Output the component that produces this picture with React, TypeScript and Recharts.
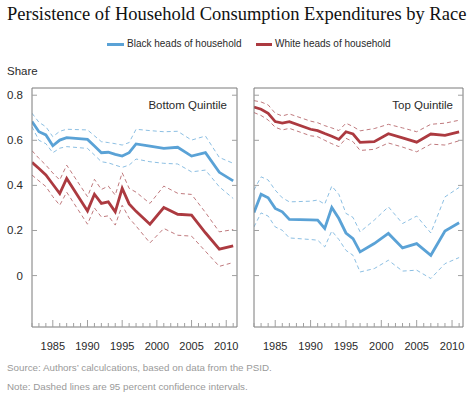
import { LineChart, Line, XAxis, YAxis } from 'recharts'

const years = [1982, 1983, 1984, 1985, 1986, 1987, 1990, 1991, 1992, 1993, 1994, 1995, 1996, 1997, 1999, 2001, 2003, 2005, 2007, 2009, 2011]

// bottom quintile
const blackBottom = [0.683, 0.638, 0.624, 0.576, 0.601, 0.612, 0.604, 0.575, 0.545, 0.547, 0.538, 0.53, 0.545, 0.584, 0.574, 0.564, 0.569, 0.53, 0.545, 0.458, 0.42]
const blackBottomHi = [0.72, 0.68, 0.66, 0.616, 0.64, 0.649, 0.646, 0.62, 0.594, 0.59, 0.585, 0.579, 0.59, 0.649, 0.643, 0.638, 0.64, 0.601, 0.619, 0.524, 0.498]
const blackBottomLo = [0.66, 0.6, 0.585, 0.545, 0.565, 0.572, 0.564, 0.535, 0.505, 0.5, 0.49, 0.48, 0.49, 0.517, 0.505, 0.498, 0.495, 0.46, 0.468, 0.394, 0.342]
const whiteBottom = [0.502, 0.475, 0.446, 0.405, 0.364, 0.431, 0.287, 0.361, 0.32, 0.327, 0.283, 0.387, 0.318, 0.285, 0.228, 0.302, 0.272, 0.268, 0.19, 0.117, 0.132]
const whiteBottomHi = [0.554, 0.52, 0.49, 0.455, 0.424, 0.49, 0.35, 0.427, 0.382, 0.397, 0.357, 0.456, 0.387, 0.37, 0.32, 0.397, 0.365, 0.36, 0.28, 0.194, 0.204]
const whiteBottomLo = [0.446, 0.42, 0.395, 0.35, 0.312, 0.37, 0.228, 0.3, 0.26, 0.265, 0.224, 0.312, 0.255, 0.22, 0.145, 0.209, 0.179, 0.175, 0.108, 0.041, 0.058]

// top quintile
const blackTop = [0.28, 0.361, 0.345, 0.298, 0.283, 0.249, 0.247, 0.246, 0.209, 0.302, 0.253, 0.189, 0.164, 0.105, 0.142, 0.187, 0.123, 0.142, 0.09, 0.198, 0.234]
const blackTopHi = [0.38, 0.438, 0.424, 0.379, 0.345, 0.327, 0.33, 0.335, 0.317, 0.397, 0.36, 0.276, 0.258, 0.194, 0.246, 0.305, 0.231, 0.264, 0.189, 0.349, 0.391]
const blackTopLo = [0.216, 0.278, 0.264, 0.216, 0.201, 0.167, 0.16, 0.157, 0.127, 0.198, 0.16, 0.112, 0.09, 0.016, 0.031, 0.068, 0.02, 0.024, -0.013, 0.053, 0.08]
const whiteTop = [0.747, 0.738, 0.72, 0.683, 0.676, 0.683, 0.649, 0.643, 0.63, 0.618, 0.604, 0.638, 0.628, 0.591, 0.594, 0.629, 0.611, 0.592, 0.628, 0.622, 0.637]
const whiteTopHi = [0.776, 0.77, 0.757, 0.72, 0.708, 0.717, 0.685, 0.678, 0.665, 0.655, 0.643, 0.676, 0.661, 0.642, 0.652, 0.671, 0.655, 0.638, 0.671, 0.676, 0.689]
const whiteTopLo = [0.723, 0.71, 0.69, 0.658, 0.646, 0.653, 0.62, 0.616, 0.6, 0.585, 0.572, 0.609, 0.594, 0.555, 0.56, 0.588, 0.57, 0.549, 0.583, 0.579, 0.598]

const yearTicks = Array.from({ length: 30 }, (_, i) => 1982 + i)
const shareTicks = [0, 0.2, 0.4, 0.6, 0.8]
const xDomain = [1982, 2011.55]
const yDomain = [-0.228, 0.832]

const BLUE = '#5aa2d6'
const RED = '#ac3a40'
const BLUE_DASH = '#8cbfe3'
const RED_DASH = '#c07a7e'
const FRAME = '#7a7a7a'
const TICK = '#a0a0a0'
const TEXT = '#2a2a2a'
const SANS = '"Liberation Sans", Arial, sans-serif'

const buildRows = (black: number[], blackHi: number[], blackLo: number[], white: number[], whiteHi: number[], whiteLo: number[]) =>
    years.map((year, i) => ({
        year,
        black: black[i],
        blackHi: blackHi[i],
        blackLo: blackLo[i],
        white: white[i],
        whiteHi: whiteHi[i],
        whiteLo: whiteLo[i],
    }))

const bottomRows = buildRows(blackBottom, blackBottomHi, blackBottomLo, whiteBottom, whiteBottomHi, whiteBottomLo)
const topRows = buildRows(blackTop, blackTopHi, blackTopLo, whiteTop, whiteTopHi, whiteTopLo)

function YearTick(props: any) {
    const { x, y, payload } = props
    const major = payload.value % 5 === 0
    return (
        <g>
            <line x1={x} x2={x} y1={y} y2={y - (major ? 7 : 4)} stroke={TICK} />
            {major && (
                <text x={x} y={y + 23} textAnchor="middle" fontSize={11} fill={TEXT} fontFamily={SANS}>
                    {payload.value}
                </text>
            )}
        </g>
    )
}

function LeftTick(props: any) {
    const { x, y, payload, showLabel } = props
    return (
        <g>
            <line x1={x} x2={x + 5} y1={y} y2={y} stroke={TICK} />
            {showLabel && (
                <text x={x - 9} y={y + 4} textAnchor="end" fontSize={11.5} fill={TEXT} fontFamily={SANS}>
                    {payload.value === 0 ? '0' : payload.value.toFixed(1)}
                </text>
            )}
        </g>
    )
}

function RightTick(props: any) {
    const { x, y } = props
    return <line x1={x} x2={x - 5} y1={y} y2={y} stroke={TICK} />
}

function Panel({ rows, width, leftWidth, showLabels }: { rows: any[]; width: number; leftWidth: number; showLabels: boolean }) {
    return (
        <LineChart width={width} height={280} data={rows} margin={{ top: 0, right: 0, bottom: 3, left: 0 }}>
            <XAxis
                dataKey="year"
                type="number"
                domain={xDomain}
                allowDataOverflow
                ticks={yearTicks}
                interval={0}
                height={30}
                tickSize={0}
                tickMargin={0}
                tickLine={false}
                axisLine={{ stroke: FRAME }}
                tick={<YearTick />}
            />
            <XAxis
                xAxisId="top"
                orientation="top"
                type="number"
                domain={xDomain}
                allowDataOverflow
                height={8}
                tick={false}
                tickLine={false}
                axisLine={{ stroke: FRAME }}
            />
            <YAxis
                type="number"
                domain={yDomain}
                allowDataOverflow
                ticks={shareTicks}
                interval={0}
                width={leftWidth}
                tickSize={0}
                tickMargin={0}
                tickLine={false}
                axisLine={{ stroke: FRAME }}
                tick={<LeftTick showLabel={showLabels} />}
            />
            <YAxis
                yAxisId="right"
                orientation="right"
                type="number"
                domain={yDomain}
                allowDataOverflow
                ticks={shareTicks}
                interval={0}
                width={8}
                tickSize={0}
                tickMargin={0}
                tickLine={false}
                axisLine={{ stroke: FRAME }}
                tick={<RightTick />}
            />
            <Line dataKey="blackHi" stroke={BLUE_DASH} strokeWidth={1} strokeDasharray="4 3" dot={false} isAnimationActive={false} />
            <Line dataKey="blackLo" stroke={BLUE_DASH} strokeWidth={1} strokeDasharray="4 3" dot={false} isAnimationActive={false} />
            <Line dataKey="whiteHi" stroke={RED_DASH} strokeWidth={1} strokeDasharray="4 3" dot={false} isAnimationActive={false} />
            <Line dataKey="whiteLo" stroke={RED_DASH} strokeWidth={1} strokeDasharray="4 3" dot={false} isAnimationActive={false} />
            <Line dataKey="black" stroke={BLUE} strokeWidth={2.8} dot={false} isAnimationActive={false} />
            <Line dataKey="white" stroke={RED} strokeWidth={2.8} dot={false} isAnimationActive={false} />
        </LineChart>
    )
}

export default function App() {
    return (
        <div style={{ position: 'absolute', left: 0, top: 0, width: 476, height: 396, background: '#fff', fontFamily: SANS, overflow: 'hidden' }}>
            <div style={{ position: 'absolute', left: 7, top: 3, fontFamily: '"Liberation Serif", serif', fontSize: 18.5, lineHeight: '22px', color: '#111', whiteSpace: 'nowrap' }}>
                Persistence of Household Consumption Expenditures by Race
            </div>

            <div style={{ position: 'absolute', left: 107, top: 38, fontSize: 10, lineHeight: '12px', color: TEXT, display: 'flex', alignItems: 'center', whiteSpace: 'nowrap' }}>
                <span style={{ display: 'inline-block', width: 17, height: 3, background: BLUE, marginRight: 3 }} />
                Black heads of household
            </div>
            <div style={{ position: 'absolute', left: 256, top: 38, fontSize: 10, lineHeight: '12px', color: TEXT, display: 'flex', alignItems: 'center', whiteSpace: 'nowrap' }}>
                <span style={{ display: 'inline-block', width: 16, height: 3, background: RED, marginRight: 3 }} />
                White heads of household
            </div>

            <div style={{ position: 'absolute', left: 7, top: 64, fontSize: 11.5, lineHeight: '14px', color: TEXT }}>Share</div>

            <div style={{ position: 'absolute', left: 0, top: 80 }}>
                <Panel rows={bottomRows} width={245} leftWidth={32} showLabels={true} />
            </div>
            <div style={{ position: 'absolute', left: 246, top: 80 }}>
                <Panel rows={topRows} width={225} leftWidth={8} showLabels={false} />
            </div>

            <div style={{ position: 'absolute', right: 249, top: 98, fontSize: 11.5, lineHeight: '14px', color: TEXT, whiteSpace: 'nowrap' }}>Bottom Quintile</div>
            <div style={{ position: 'absolute', right: 23, top: 98, fontSize: 11.5, lineHeight: '14px', color: TEXT, whiteSpace: 'nowrap' }}>Top Quintile</div>

            <div style={{ position: 'absolute', left: 7, top: 362, fontSize: 9.8, lineHeight: '12px', color: '#9a9a9a', whiteSpace: 'nowrap' }}>
                Source: Authors’ calculcations, based on data from the PSID.
            </div>
            <div style={{ position: 'absolute', left: 7, top: 381, fontSize: 9.8, lineHeight: '12px', color: '#9a9a9a', whiteSpace: 'nowrap' }}>
                Note: Dashed lines are 95 percent confidence intervals.
            </div>
        </div>
    )
}
